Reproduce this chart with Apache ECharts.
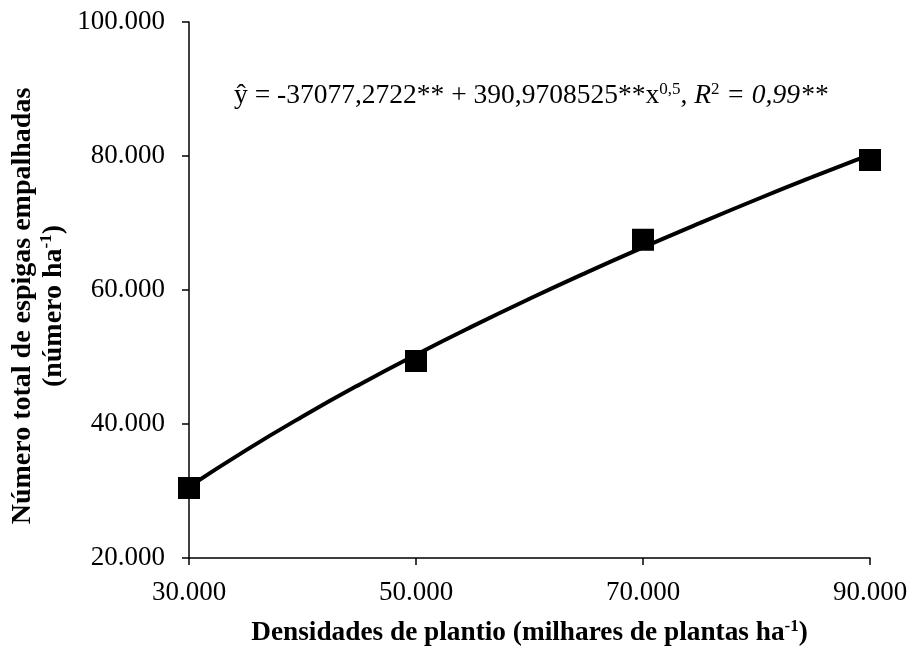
<!DOCTYPE html>
<html><head><meta charset="utf-8">
<script src="https://cdn.jsdelivr.net/npm/echarts@6/dist/echarts.min.js"></script>
<style>html,body{margin:0;padding:0;background:#fff}#c{width:914px;height:648px}</style>
</head><body><div id="c"></div>
<script>
// Observed data (density, total husked ears)
const densities = [30000, 50000, 70000, 90000];
const observed = [30450, 49400, 67500, 79400];
// Fitted curve
const curveX = [30000, 35000, 40000, 45000, 50000, 55000, 60000, 65000, 70000, 75000, 80000, 85000, 90000];
const curveY = [30640, 36070, 41120, 45870, 50350, 54610, 58690, 62600, 66360, 69990, 73510, 76910, 80210];
const xTicks = [30000, 50000, 70000, 90000];
const yTicks = [20000, 40000, 60000, 80000, 100000];
const xTitle = ['Densidades de plantio (milhares de plantas ha', '-1', ')'];
const yTitle = ['Número total de espigas empalhadas', '(número ha', '-1', ')'];
const equation = ['ŷ = -37077,2722** + 390,9708525**x', '0,5', ', ', 'R', '2', ' = 0,99**'];

const fmt = v => (v / 1000).toFixed(0) + '.000';
const serif = '"Liberation Serif", "Times New Roman", serif';

const chart = echarts.init(document.getElementById('c'));
chart.setOption({
  animation: false,
  backgroundColor: '#fff',
  grid: { left: 189, right: 44, top: 22, bottom: 90, outerBoundsMode: 'none', containLabel: false },
  xAxis: {
    type: 'value', min: xTicks[0], max: xTicks[xTicks.length - 1], interval: 20000,
    axisLine: { lineStyle: { color: '#000', width: 1.5 } },
    axisTick: { show: true, inside: false, length: 7, lineStyle: { color: '#000', width: 1.5 } },
    splitLine: { show: false },
    axisLabel: { formatter: fmt, color: '#000', fontFamily: serif, fontSize: 27, margin: 21 },
    name: '{b|' + xTitle[0] + '}{s|' + xTitle[1] + '}{b|' + xTitle[2] + '}',
    nameLocation: 'middle', nameGap: 60,
    nameTextStyle: {
      rich: {
        b: { fontFamily: serif, fontSize: 27.3, fontWeight: 'bold', color: '#000', lineHeight: 30 },
        s: { fontFamily: serif, fontSize: 17, fontWeight: 'bold', color: '#000', verticalAlign: 'top', lineHeight: 30 }
      }
    }
  },
  yAxis: {
    type: 'value', min: yTicks[0], max: yTicks[yTicks.length - 1], interval: 20000,
    axisLine: { show: true, lineStyle: { color: '#000', width: 1.5 } },
    axisTick: { show: true, inside: false, length: 7, lineStyle: { color: '#000', width: 1.5 } },
    splitLine: { show: false },
    axisLabel: { formatter: fmt, color: '#000', fontFamily: serif, fontSize: 27, margin: 24 }
  },
  graphic: [{
    type: 'text', x: 38, y: 306, rotation: Math.PI / 2,
    style: {
      text: '{b|' + yTitle[0] + '}\n{b|' + yTitle[1] + '}{s|' + yTitle[2] + '}{b|' + yTitle[3] + '}',
      align: 'center', verticalAlign: 'middle',
      rich: {
        b: { fontFamily: serif, fontSize: 28, fontWeight: 'bold', color: '#000', lineHeight: 31, align: 'center' },
        s: { fontFamily: serif, fontSize: 17, fontWeight: 'bold', color: '#000', verticalAlign: 'top', lineHeight: 31 }
      }
    }
  }, {
    type: 'text', left: 234, top: 81,
    style: {
      text: '{n|' + equation[0] + '}{s|' + equation[1] + '}{n|' + equation[2] + '}{i|' + equation[3] + '}{s|' + equation[4] + '}{i|' + equation[5] + '}',
      rich: {
        n: { fontFamily: serif, fontSize: 27.5, color: '#000', lineHeight: 30 },
        i: { fontFamily: serif, fontSize: 27.5, fontStyle: 'italic', color: '#000', lineHeight: 30 },
        s: { fontFamily: serif, fontSize: 17, color: '#000', verticalAlign: 'top', lineHeight: 30 }
      }
    }
  }],
  series: [
    {
      type: 'line', data: curveX.map((x, i) => [x, curveY[i]]), smooth: true,
      showSymbol: false, lineStyle: { color: '#000', width: 4 }, z: 2
    },
    {
      type: 'scatter', data: densities.map((x, i) => [x, observed[i]]),
      symbol: 'rect', symbolSize: 22, itemStyle: { color: '#000', opacity: 1 }, z: 3
    }
  ]
});
</script></body></html>
